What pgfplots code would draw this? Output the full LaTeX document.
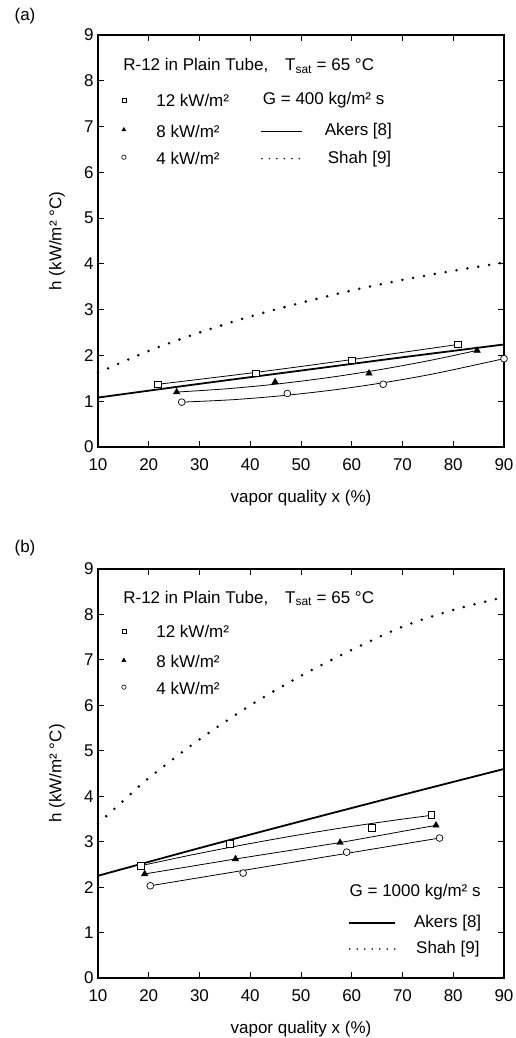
\documentclass[border=0pt]{standalone}
\usepackage{fontspec}
\setmainfont{Liberation Sans}
\usepackage{pgfplots}
\pgfplotsset{compat=1.18}

\newcommand{\fs}{\fontsize{17}{20}\selectfont}

\pgfplotsset{
  myaxis/.style={
    scale only axis, width=406pt,
    xmin=10, xmax=90, ymin=0, ymax=9,
    xtick={10,20,...,90}, ytick={0,1,...,9},
    tick align=inside, major tick length=6pt,
    axis line style={line width=1.2pt},
    every tick/.style={line width=1pt, black},
    /pgf/number format/assume math mode=true,
    tick label style={font=\fs},
    xticklabel style={anchor=center, yshift=-18pt},
    yticklabel style={xshift=-1pt},
    label style={font=\fs},
    xlabel={vapor quality x (\%)},
    ylabel={h (kW/m² °C)},
    xlabel style={at={(axis description cs:0.5,0)}, anchor=center, yshift=-51pt},
    ylabel style={at={(axis description cs:0,0.5)}, anchor=center, rotate=0, yshift=41pt},
    clip=false,
  },
  fit/.style={black, line width=0.8pt, no markers},
  sq/.style={black, only marks, mark=square*, mark size=3.3pt, mark options={fill=white, line width=0.7pt}},
  tri/.style={black, only marks, mark=triangle*, mark size=3.8pt, mark options={fill=black}},
  circ/.style={black, only marks, mark=*, mark size=3.4pt, mark options={fill=white, line width=0.7pt}},
  akers/.style={black, line width=1.8pt, no markers},
  shah/.style={black, line width=2.8pt, dash pattern=on 0pt off 11pt, line cap=round, no markers},
  lsq/.style={black, only marks, mark=square, mark size=2pt, mark options={line width=0.6pt}},
  ltri/.style={black, only marks, mark=triangle*, mark size=2.4pt},
  lcirc/.style={black, only marks, mark=o, mark size=2.2pt, mark options={line width=0.6pt}},
  lakers/.style={black, line width=1.2pt, no markers},
  lshah/.style={black, line width=1.7pt, dash pattern=on 0pt off 7.5pt, line cap=round, no markers},
}

\begin{document}
\begin{tikzpicture}
\useasboundingbox (0pt,0pt) rectangle (516pt,-1038pt);

\node[font=\fs] at (25pt,-16pt) {(a)};
\node[font=\fs] at (25pt,-548pt) {(b)};

% ---------------- (a) ----------------
\begin{axis}[myaxis, height=412pt, at={(98pt,-447pt)}, anchor=south west]
  \addplot[shah, smooth] coordinates {(10,1.62) (20,2.1) (30,2.5) (40,2.85) (50,3.15) (60,3.42) (70,3.65) (80,3.85) (90,4.03)};
  \addplot[akers, smooth] coordinates {(10,1.08) (30,1.38) (50,1.67) (70,1.96) (90,2.24)};
  % fitted lines
  \addplot[fit, smooth] coordinates {(21.8,1.37) (41.1,1.63) (60.0,1.91) (80.9,2.24)};
  \addplot[fit, smooth] coordinates {(25.5,1.20) (35.5,1.273) (45.5,1.379) (55.5,1.518) (65.5,1.689) (75.5,1.893) (84.7,2.11)};
  \addplot[fit, smooth] coordinates {(26.5,0.98) (36.5,1.033) (46.5,1.123) (56.5,1.248) (66.5,1.409) (76.5,1.607) (90,1.93)};
  % data
  \addplot[sq] coordinates {(21.8,1.37) (41.1,1.61) (60.0,1.89) (80.9,2.24)};
  \addplot[tri] coordinates {(25.5,1.20) (44.9,1.42) (63.4,1.61) (84.7,2.11)};
  \addplot[circ] coordinates {(26.5,0.98) (47.3,1.17) (66.2,1.37) (90.0,1.93)};
  % legend swatches
  \addplot[lsq] coordinates {(15.1,7.57)};
  \addplot[ltri] coordinates {(15.1,6.93)};
  \addplot[lcirc] coordinates {(15.1,6.33)};
  \addplot[lakers] coordinates {(42.1,6.9) (50.2,6.9)};
  \addplot[lshah] coordinates {(42.3,6.3) (50.2,6.3)};
  \node[font=\fs, anchor=west] at (axis cs:14.3,8.32) {R-12 in Plain Tube,\quad T\textsubscript{sat} = 65 °C};
  \node[font=\fs, anchor=west] at (axis cs:20.8,7.57) {12 kW/m²};
  \node[font=\fs, anchor=west] at (axis cs:20.8,6.9) {8 kW/m²};
  \node[font=\fs, anchor=west] at (axis cs:20.8,6.3) {4 kW/m²};
  \node[font=\fs, anchor=west] at (axis cs:41.8,7.57) {G = 400 kg/m² s};
  \node[font=\fs, anchor=west] at (axis cs:54.0,6.9) {Akers [8]};
  \node[font=\fs, anchor=west] at (axis cs:54.6,6.3) {Shah [9]};
\end{axis}

% ---------------- (b) ----------------
\begin{axis}[myaxis, height=409pt, at={(98pt,-978pt)}, anchor=south west]
  \addplot[shah, smooth] coordinates {(10,3.4) (15,3.9) (20,4.4) (30,5.25) (40,6.0) (50,6.65) (60,7.22) (70,7.73) (80,8.1) (90,8.38)};
  \addplot[akers, smooth] coordinates {(10,2.25) (30,2.86) (50,3.45) (70,4.03) (90,4.6)};
  % fitted lines
  \addplot[fit, smooth] coordinates {(18.4,2.47) (28.4,2.708) (38.4,2.926) (48.4,3.127) (58.4,3.309) (68.4,3.472) (75.7,3.58)};
  \addplot[fit] coordinates {(19.2,2.29) (37.1,2.62) (57.7,2.98) (76.6,3.36)};
  \addplot[fit] coordinates {(20.3,2.03) (77.3,3.08)};
  % data
  \addplot[sq] coordinates {(18.4,2.47) (36.0,2.95) (64.0,3.31) (75.7,3.59)};
  \addplot[tri] coordinates {(19.2,2.29) (37.1,2.62) (57.7,2.98) (76.6,3.36)};
  \addplot[circ] coordinates {(20.3,2.03) (38.6,2.31) (59.0,2.77) (77.3,3.08)};
  % legend swatches
  \addplot[lsq] coordinates {(15.1,7.62)};
  \addplot[ltri] coordinates {(15.1,6.99)};
  \addplot[lcirc] coordinates {(15.1,6.40)};
  \addplot[lakers] coordinates {(59.4,1.21) (68.5,1.21)};
  \addplot[lshah] coordinates {(59.6,0.64) (68.5,0.64)};
  \node[font=\fs, anchor=west] at (axis cs:14.3,8.35) {R-12 in Plain Tube,\quad T\textsubscript{sat} = 65 °C};
  \node[font=\fs, anchor=west] at (axis cs:20.8,7.62) {12 kW/m²};
  \node[font=\fs, anchor=west] at (axis cs:20.8,6.96) {8 kW/m²};
  \node[font=\fs, anchor=west] at (axis cs:20.8,6.37) {4 kW/m²};
  \node[font=\fs, anchor=west] at (axis cs:58.9,1.88) {G = 1000 kg/m² s};
  \node[font=\fs, anchor=west] at (axis cs:71.6,1.21) {Akers [8]};
  \node[font=\fs, anchor=west] at (axis cs:72.0,0.64) {Shah [9]};
\end{axis}
\end{tikzpicture}
\end{document}
